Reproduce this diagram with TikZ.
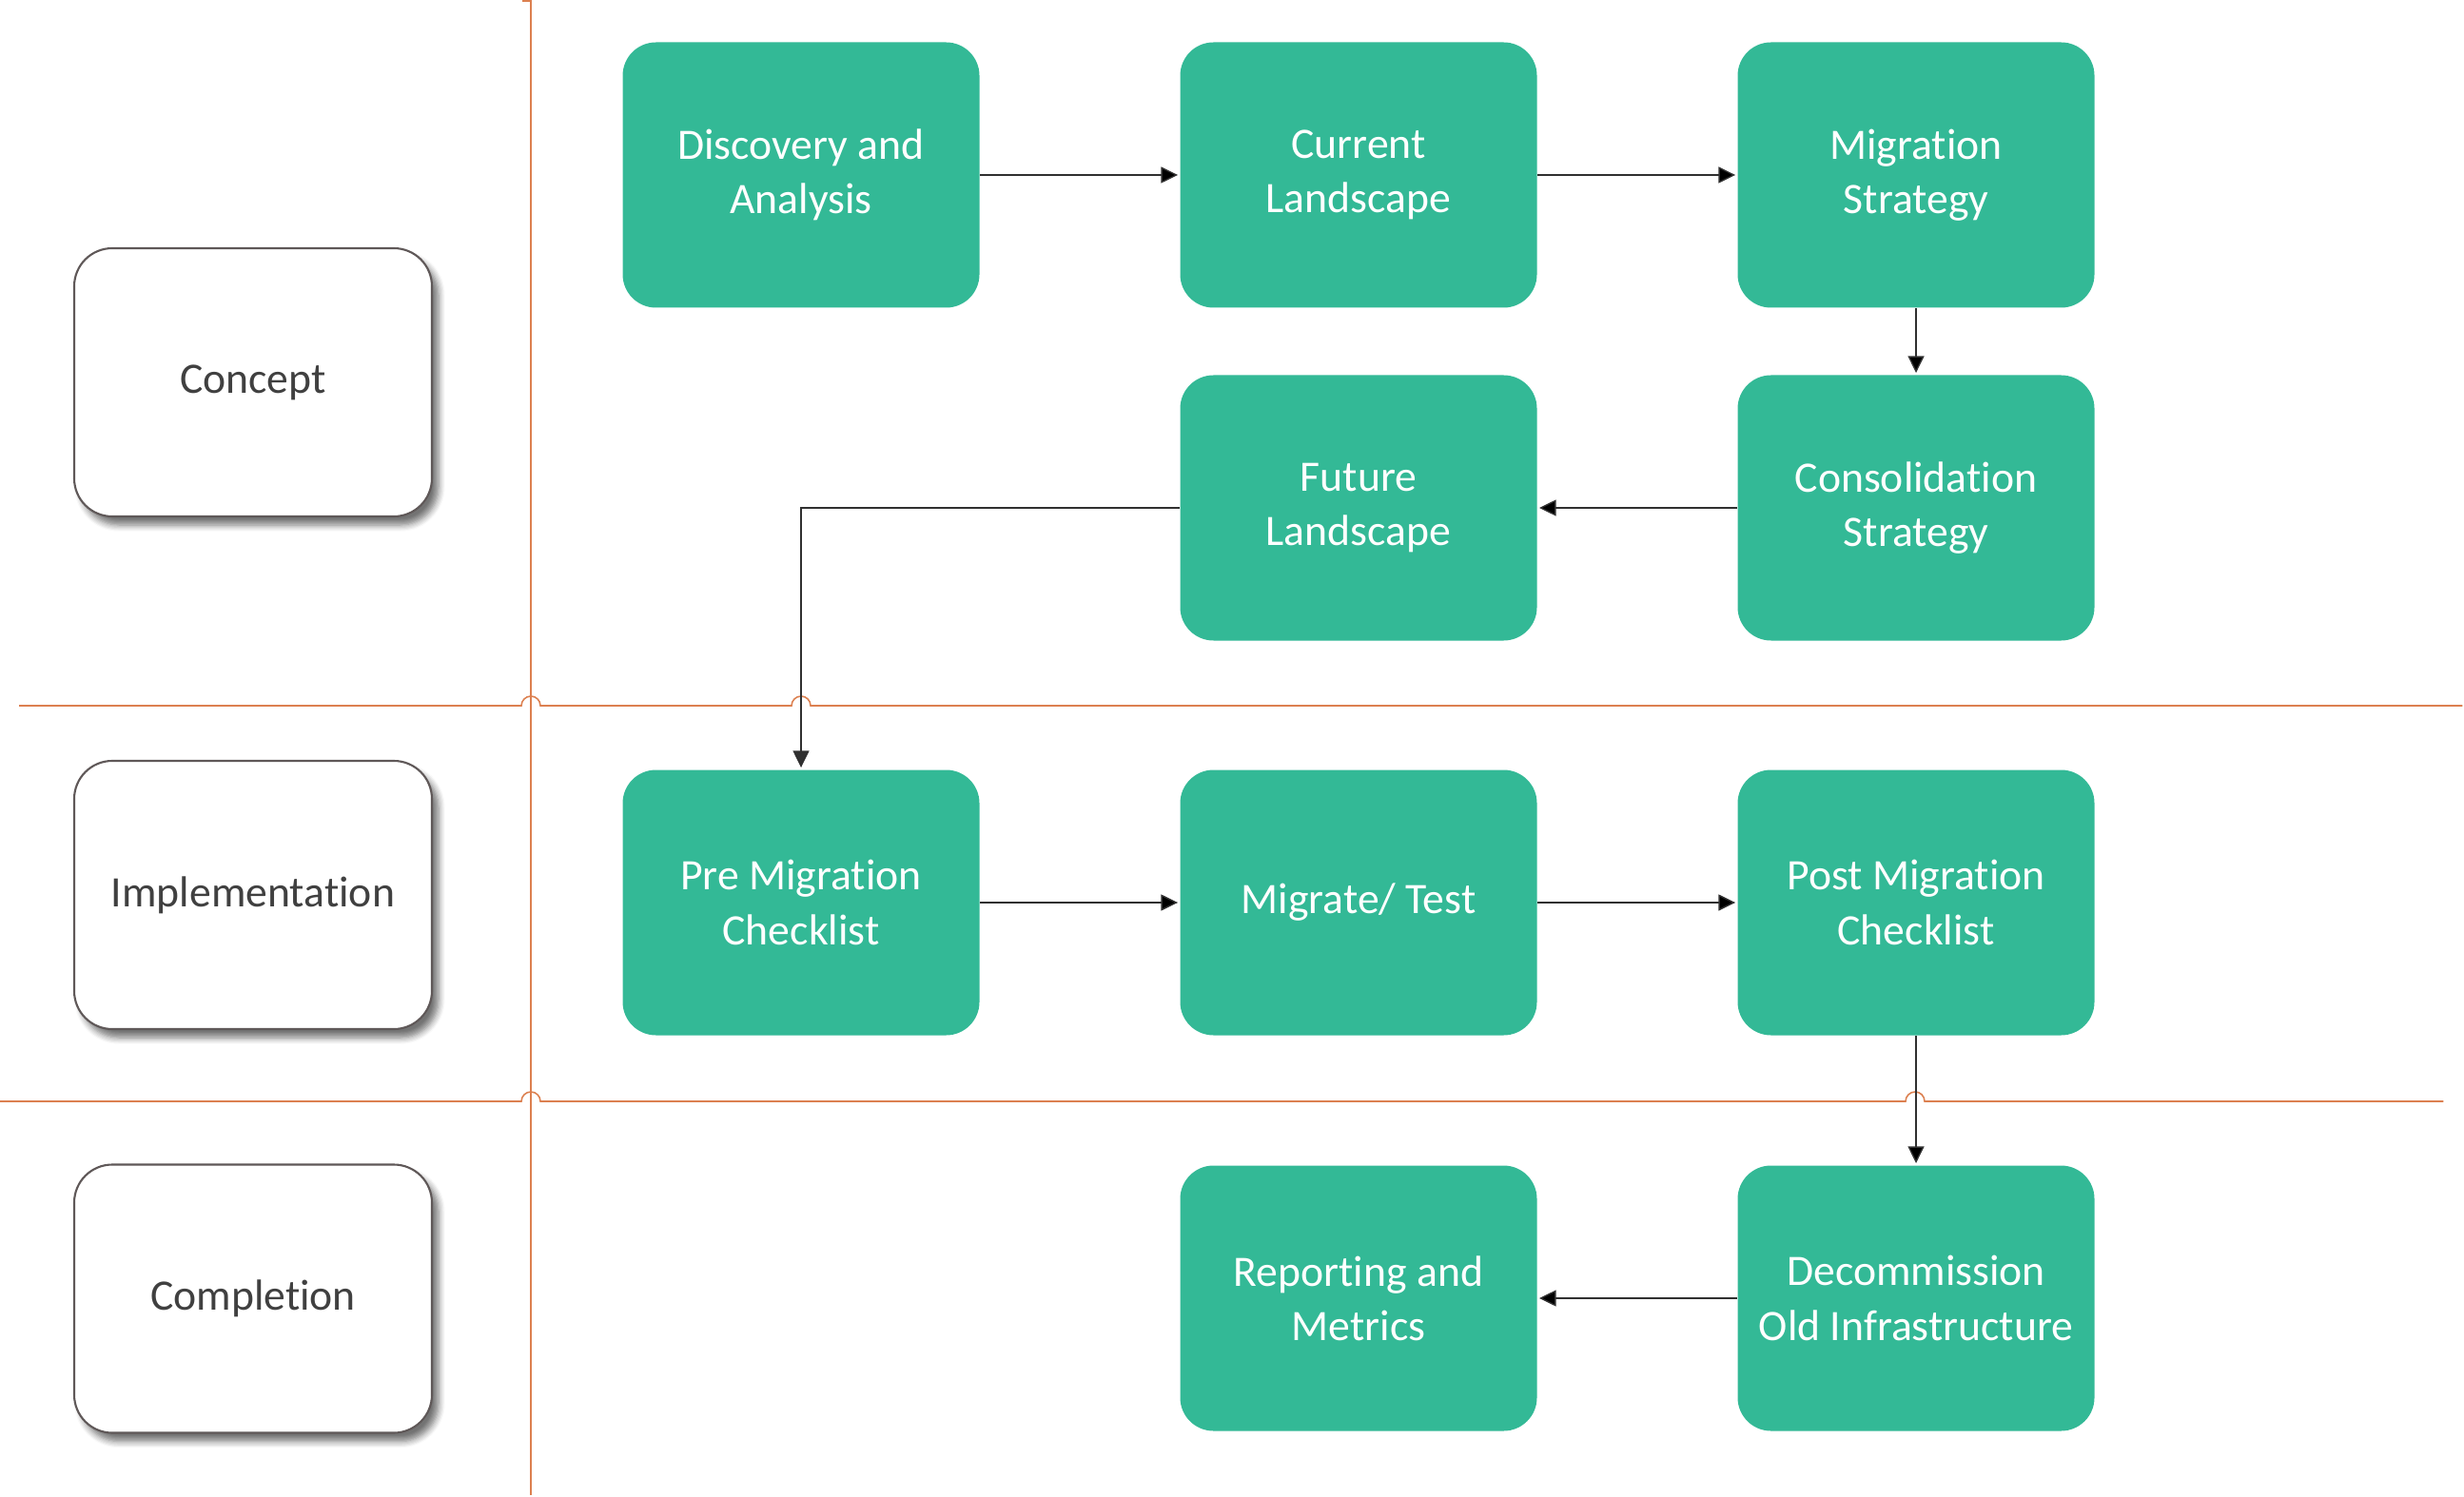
\documentclass[tikz,border=0pt]{standalone}
\usepackage{fontspec}
\setmainfont{Carlito}[Ligatures=NoCommon]
\usepackage{tikz}
\usetikzlibrary{shapes,arrows.meta,shadows,shadows.blur}
\definecolor{taskgreen}{HTML}{33B996}
\definecolor{lanecol}{HTML}{DC8050}
\definecolor{phaseline}{HTML}{5F5858}
\definecolor{phasetext}{HTML}{404040}
\definecolor{flowcol}{HTML}{303030}

\begin{document}
\begin{tikzpicture}[>={Triangle[length=5pt,width=4.8pt]},shorten >=0.5pt,node distance=5.86cm,line width=0.4pt]
\tikzstyle{task}=[rectangle,rounded corners=0.35cm,fill=taskgreen,text=white,minimum width=3.75cm,minimum height=2.79cm,align=center,font=\fontsize{13}{16.3}\selectfont]
\tikzstyle{phase}=[rectangle,rounded corners=0.4cm,draw=phaseline,line width=0.6pt,fill=white,text=phasetext,minimum width=3.76cm,minimum height=2.82cm,font=\fontsize{13}{16}\selectfont,blur shadow={shadow xshift=0.07cm,shadow yshift=-0.09cm,shadow blur steps=6,shadow opacity=55}]
\tikzstyle{lane}=[draw=lanecol,line width=0.45pt]
\useasboundingbox (0,0) rectangle (25.9,-15.74);
% swimlanes
\draw[lane] (5.49,-0.01) -- (5.58,-0.01) -- (5.58,-15.74);
\draw[lane] (0.2,-7.42) -- (5.48,-7.42) arc[start angle=180,end angle=0,radius=0.1] -- (8.32,-7.42) arc[start angle=180,end angle=0,radius=0.1] -- (25.9,-7.42);
\draw[lane] (0,-11.58) -- (5.48,-11.58) arc[start angle=180,end angle=0,radius=0.1] -- (20.03,-11.58) arc[start angle=180,end angle=0,radius=0.1] -- (25.7,-11.58);
% phases
\node[phase] (concept) at (2.66,-4.02) {Concept};
\node[phase] (impl) at (2.66,-9.41) {Implementation};
\node[phase] (compl) at (2.66,-13.655) {Completion};
% concept
\node[task] (DA) at (8.42,-1.84) {Discovery and\\Analysis};
\node[task] [right of=DA] (CL) {Current\\Landscape};
\node[task] [right of=CL] (MS) {Migration\\Strategy};
\node[task] [below of=MS,node distance=3.5cm] (CS) {Consolidation\\Strategy};
\node[task] [left of=CS] (FL) {Future\\Landscape};
% implementation
\node[task] (PM) at (8.42,-9.49) {Pre Migration\\Checklist};
\node[task] [right of=PM] (MT) {Migrate/ Test};
\node[task] [right of=MT] (PC) {Post Migration\\Checklist};
% completion
\node[task] [below of=PC,node distance=4.16cm] (DO) {Decommission\\Old Infrastructure};
\node[task] [left of=DO] (RM) {Reporting and\\Metrics};
\path[->,draw=flowcol] (DA) edge (CL)
          (CL) edge (MS)
          (MS) edge (CS)
          (CS) edge (FL)
          (PM) edge (MT)
          (MT) edge (PC)
          (PC) edge (DO)
          (DO) edge (RM);
\draw[->,flowcol] (FL.west) -| (PM.north);
\end{tikzpicture}
\end{document}
